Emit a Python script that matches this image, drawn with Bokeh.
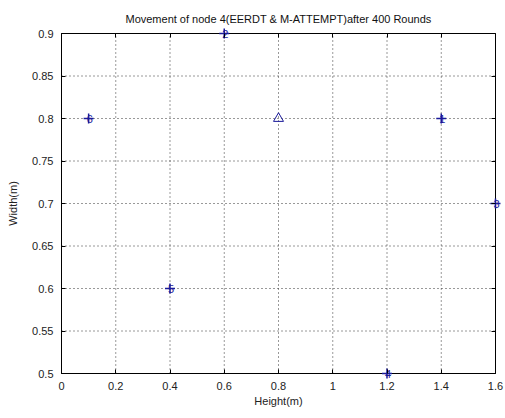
from bokeh.plotting import figure
from bokeh.models import (ColumnDataSource, Range1d, FixedTicker, LinearAxis,
                          CustomJSTickFormatter)
from bokeh.embed import file_html
from bokeh.resources import INLINE
from bokeh.core.properties import value

# data
node_x = [1.4, 0.6, 1.6, 1.2, 0.4, 0.1]
node_y = [0.8, 0.9, 0.7, 0.5, 0.6, 0.8]
node_labels = ["1", "2", "3", "4", "5", "6"]
sink_x = [0.8]
sink_y = [0.8]
x_ticks = [0, 0.2, 0.4, 0.6, 0.8, 1.0, 1.2, 1.4, 1.6]
y_ticks = [0.5, 0.55, 0.6, 0.65, 0.7, 0.75, 0.8, 0.85, 0.9]

FONT = "Liberation Sans"
MARK = "#1a1a9a"

# frame is 8px larger than the axes box on each side so edge markers are not clipped
M = 8
box_w, box_h = 434, 340
x0, x1 = x_ticks[0], x_ticks[-1]
y0, y1 = y_ticks[0], y_ticks[-1]
dx = M * (x1 - x0) / box_w
dy = M * (y1 - y0) / box_h

p = figure(width=505, height=418, output_backend="svg", toolbar_location=None,
           x_range=Range1d(x0 - dx, x1 + dx), y_range=Range1d(y0 - dy, y1 + dy),
           min_border_left=61 - M, min_border_right=10 - M, min_border_top=33 - M,
           min_border_bottom=45 - M)
p.background_fill_color = "white"
p.border_fill_color = "white"
p.outline_line_color = None
p.grid.visible = False

fmt = CustomJSTickFormatter(code="""
var s = tick.toFixed(2);
s = s.replace(/0+$/, '').replace(/\\.$/, '');
return s;
""")
blank = CustomJSTickFormatter(code="return '';")

p.title.text = "Movement of node 4(EERDT & M-ATTEMPT)after 400 Rounds"
p.title.text_font = FONT
p.title.text_font_size = "11px"
p.title.text_font_style = "normal"
p.title.align = "center"
p.title.text_color = "#111111"
p.title.offset = 0
p.title.standoff = 2

for ax, ticks in ((p.xaxis[0], x_ticks), (p.yaxis[0], y_ticks)):
    ax.ticker = FixedTicker(ticks=ticks)
    ax.formatter = fmt
    ax.major_tick_in = M + 4
    ax.major_tick_out = -M
    ax.minor_tick_line_color = None
    ax.major_label_text_font = FONT
    ax.major_label_text_font_size = "11px"
    ax.major_label_text_color = "#222222"
    ax.axis_line_color = None
    ax.major_tick_line_color = "black"
    ax.axis_label_text_font = FONT
    ax.axis_label_text_font_size = "11px"
    ax.axis_label_text_font_style = "normal"
    ax.axis_label_text_color = "#222222"

p.xaxis[0].axis_label = "Height(m)"
p.yaxis[0].axis_label = "Width(m)"
p.xaxis[0].axis_label_standoff = 2
p.yaxis[0].axis_label_standoff = 10
p.xaxis[0].major_label_standoff = 0
p.yaxis[0].major_label_standoff = 0

# box ticks on top and right
top = LinearAxis(ticker=FixedTicker(ticks=x_ticks), formatter=blank,
                 major_tick_in=M + 4, major_tick_out=-M, minor_tick_line_color=None,
                 axis_line_color=None, major_label_standoff=0)
right = LinearAxis(ticker=FixedTicker(ticks=y_ticks), formatter=blank,
                   major_tick_in=M + 4, major_tick_out=-M, minor_tick_line_color=None,
                   axis_line_color=None, major_label_standoff=0)
p.add_layout(top, "above")
p.add_layout(right, "right")

# dotted grid inside the box
p.segment(x0=x_ticks, y0=[y0] * len(x_ticks), x1=x_ticks, y1=[y1] * len(x_ticks),
          line_color="#333333", line_dash="1 3", line_width=1)
p.segment(x0=[x0] * len(y_ticks), y0=y_ticks, x1=[x1] * len(y_ticks), y1=y_ticks,
          line_color="#333333", line_dash="1 3", line_width=1)
# axes box
p.quad(left=[x0], right=[x1], bottom=[y0], top=[y1], fill_color=None,
       line_color="black", line_width=1)

src = ColumnDataSource(dict(x=node_x, y=node_y, label=node_labels))
p.scatter("x", "y", source=src, marker="cross", size=10, line_color=MARK,
          line_width=1.5)
p.text("x", "y", text="label", source=src, text_font=value(FONT),
       text_font_size="11px", text_color=MARK, text_align="left",
       text_baseline="middle", x_offset=-2)
p.scatter(sink_x, sink_y, marker="triangle", size=10, fill_color=None,
          line_color=MARK, line_width=1)

open("out.html", "w").write(file_html(p, INLINE))
